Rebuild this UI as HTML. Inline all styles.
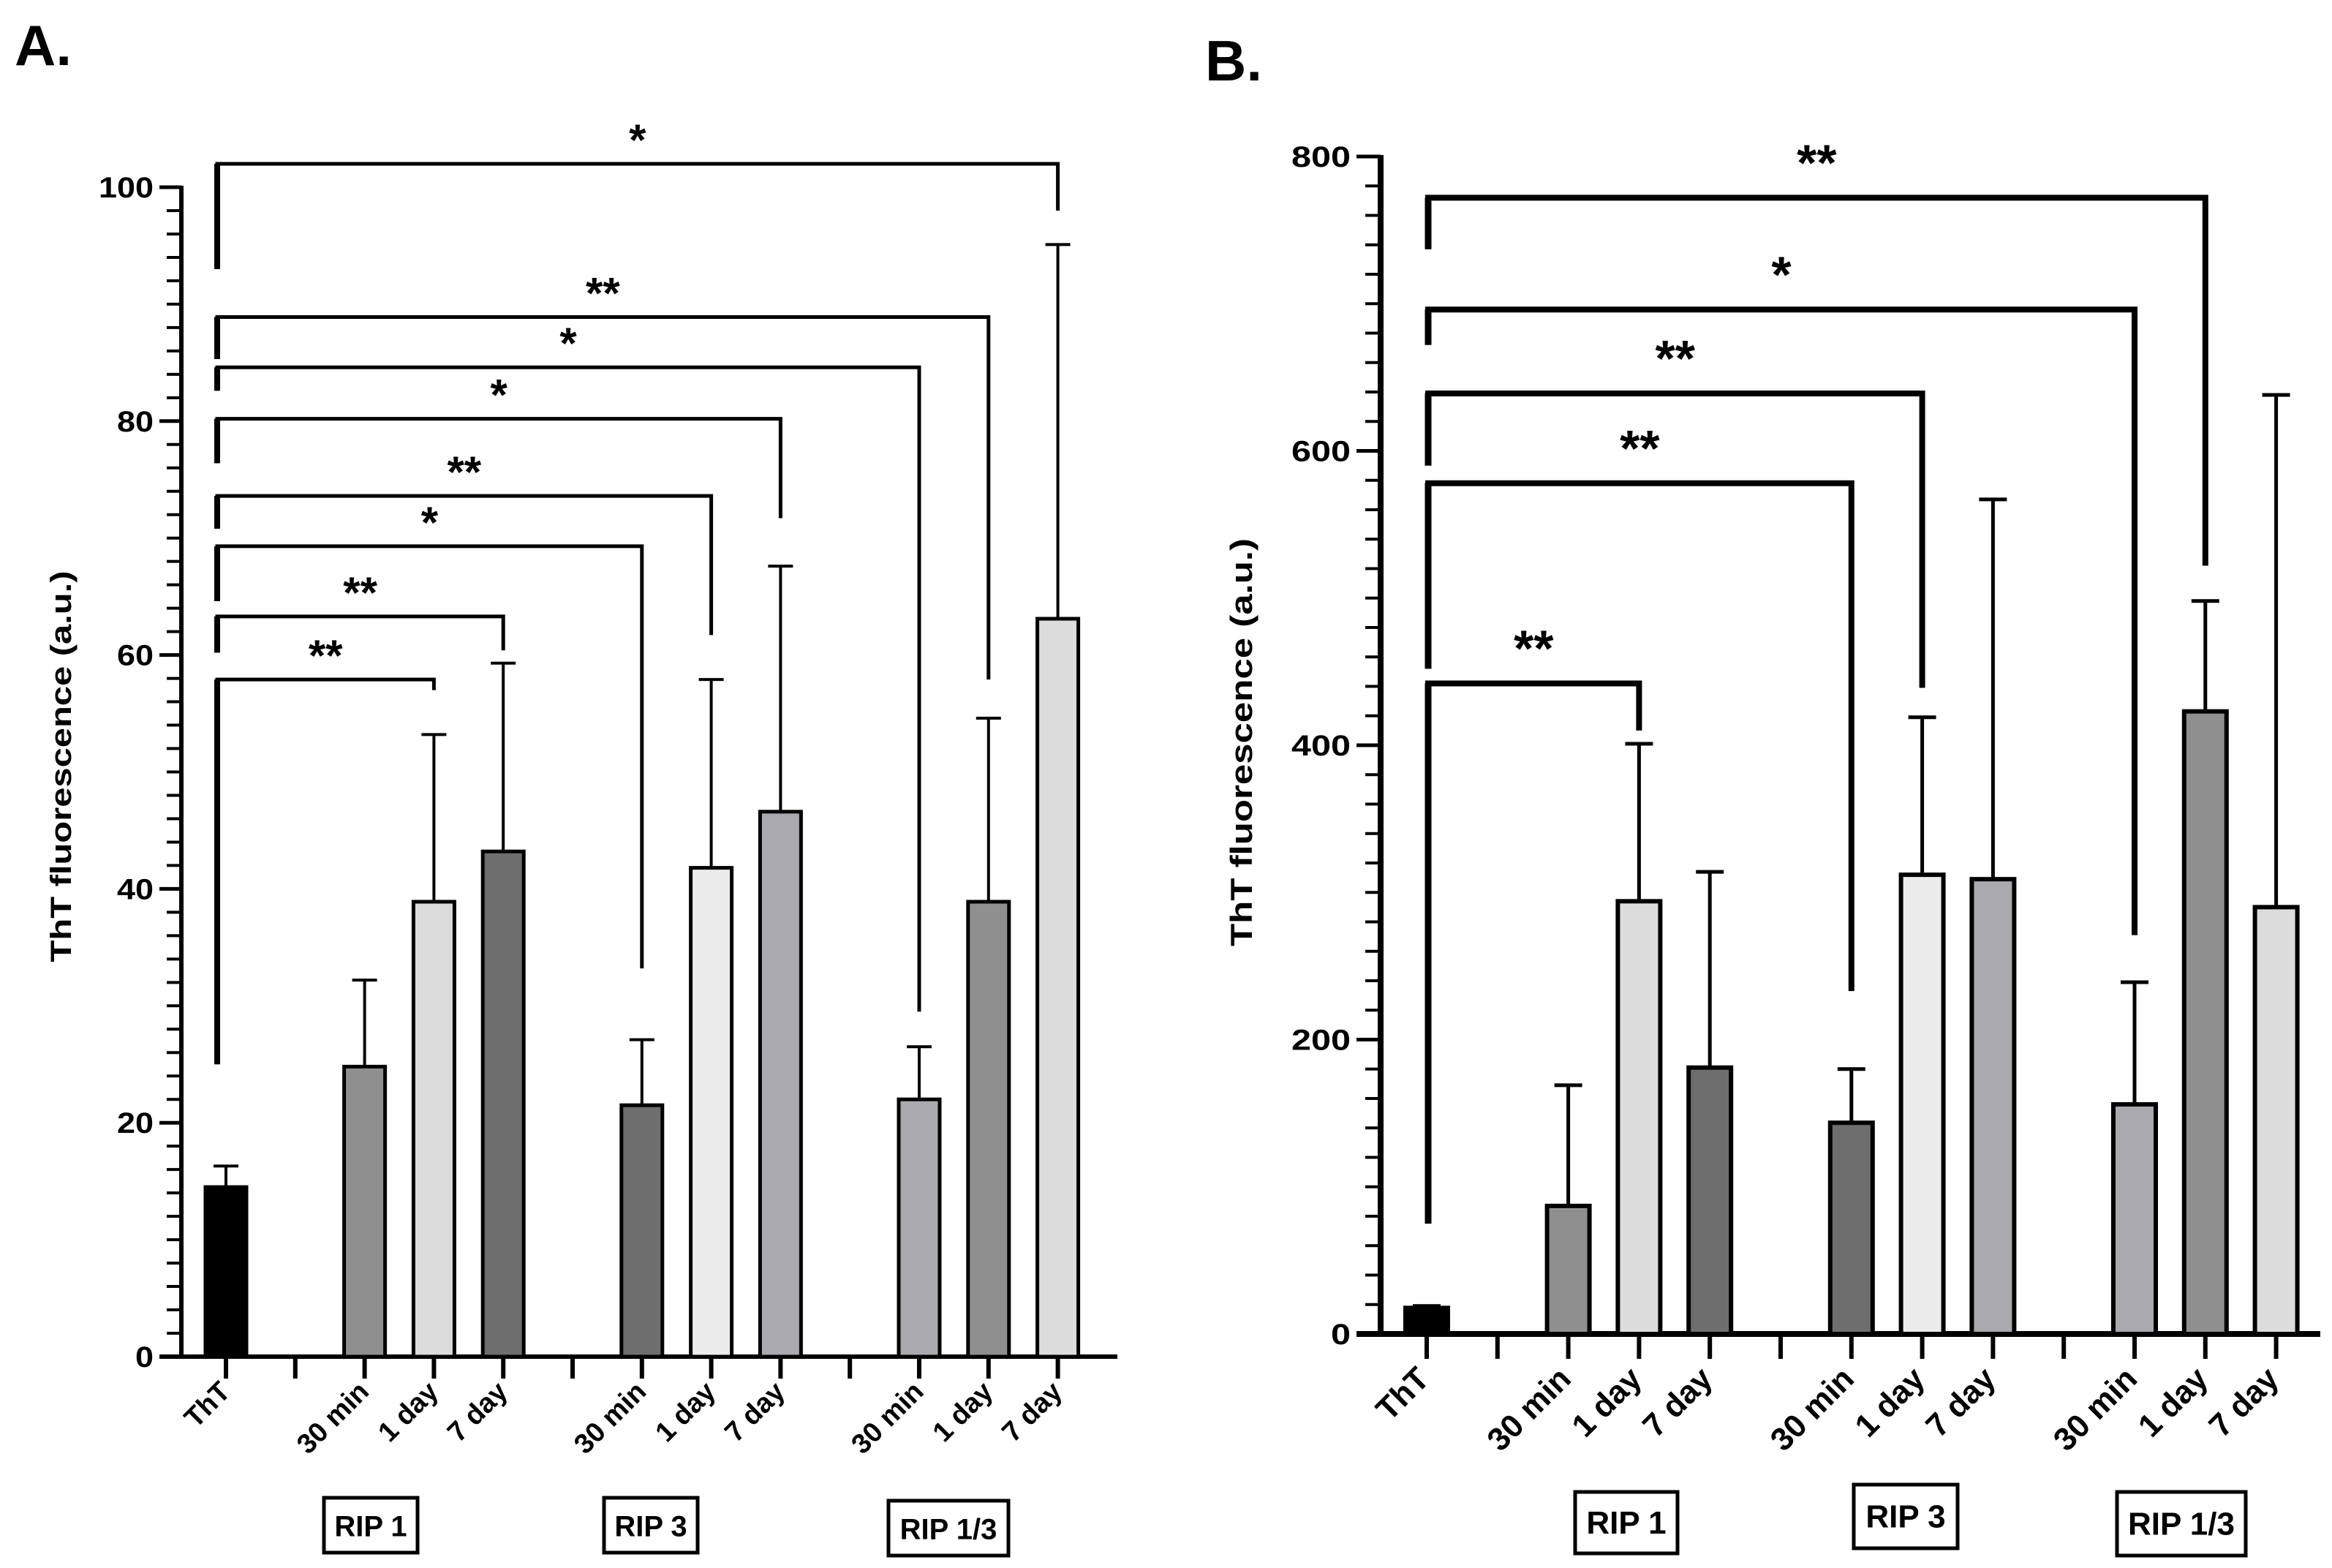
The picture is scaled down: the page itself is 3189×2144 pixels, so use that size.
<!DOCTYPE html>
<html><head><meta charset="utf-8"><style>
html,body{margin:0;padding:0;background:#fff;}
svg{display:block;}
text{font-family:"Liberation Sans",Arial,sans-serif;}
</style></head><body>
<svg id="fig" width="3189" height="2144" viewBox="0 0 3189 2144" xmlns="http://www.w3.org/2000/svg">
<rect x="0" y="0" width="3189" height="2144" fill="#fff"/>
<text x="20" y="89" font-size="78" font-weight="bold">A.</text>
<text x="1648" y="110" font-size="78" font-weight="bold">B.</text>
<g id="chartA"></g>
<g id="chartB"></g>
</svg>
<script>
// ---------- data ----------
const categories = ["ThT","","30 min","1 day","7 day","","30 min","1 day","7 day","","30 min","1 day","7 day"];
const groupNames = ["RIP 1","RIP 3","RIP 1/3"];
const valuesA = [14.5,null,24.8,38.9,43.2,null,21.5,41.8,46.6,null,22.0,38.9,63.1];
const errTopA = [16.3,null,32.2,53.2,59.3,null,27.1,57.9,67.6,null,26.5,54.6,95.1];
const valuesB = [17.7,null,87,294,181,null,143.5,312,309,null,156,423,290];
const errTopB = [19,null,169,401,314,null,180,419,567,null,239,498,638];
const colorsA = ["#000","", "#8f8f8f","#dcdcdc","#6e6e6e","", "#6e6e6e","#ececec","#aaaaae","", "#aaaaae","#8f8f8f","#dcdcdc"];
const colorsB = ["#000","", "#8f8f8f","#dcdcdc","#6e6e6e","", "#6e6e6e","#ececec","#aaaaae","", "#aaaaae","#8f8f8f","#dcdcdc"];
const ticksA = [0,20,40,60,80,100];
const ticksB = [0,200,400,600,800];
// brackets: [target index, line value, left-leg end value, right-leg end value, label]
const bracketsA = [
 [12,102,93,98,"*"],[11,88.9,85.3,57.9,"**"],[10,84.6,82.6,29.5,"*"],[8,80.2,76.4,71.7,"*"],
 [7,73.6,70.8,61.7,"**"],[6,69.3,64.6,33.2,"*"],[4,63.3,60.2,60.4,"**"],[3,57.9,25,57,"**"]
];
const bracketsB = [
 [11,772,737,522,"**"],[10,696,672,271,"*"],[7,639,590,439,"**"],[6,578,452,233,"**"],[3,442,75,410,"**"]
];

const NS="http://www.w3.org/2000/svg";
function mk(parent,tag,attrs){const e=document.createElementNS(NS,tag);for(const k in attrs)e.setAttribute(k,attrs[k]);parent.appendChild(e);return e;}

function drawChart(cfg){
  const g=document.getElementById(cfg.id);
  const y=v=>cfg.y0-(v-0)*(cfg.y0-cfg.yTop)/cfg.max;
  const x=i=>cfg.x0+i*cfg.step;
  const yt=mk(g,"text",{x:0,y:0,"font-size":cfg.titleSize,"font-weight":"bold","text-anchor":"middle",transform:`translate(${cfg.titleX},${cfg.titleY}) rotate(-90)`,textLength:cfg.titleLen,lengthAdjust:"spacingAndGlyphs"});
  yt.textContent="ThT fluorescence (a.u.)";
  
  
  for(let v=0;v<=cfg.max+1e-9;v+=cfg.minor){
    const t=mk(g,"line",{x1:cfg.axisX-cfg.minorLen,x2:cfg.axisX,y1:y(v),y2:y(v),stroke:"#000","stroke-width":cfg.tickW});
    
    
  }
  cfg.ticks.forEach(v=>{
    const t=mk(g,"line",{x1:cfg.axisX-cfg.majorLen,x2:cfg.axisX,y1:y(v),y2:y(v),stroke:"#000","stroke-width":cfg.tickW+1});
    
    
    const s=String(v);
    const l=mk(g,"text",{x:cfg.axisX-cfg.majorLen-8,y:y(v)+14,"font-size":40,"font-weight":"bold","text-anchor":"end",textLength:s.length*cfg.digitW,lengthAdjust:"spacingAndGlyphs"});
    l.textContent=s;
    
    
  });
  const ya=mk(g,"line",{x1:cfg.axisX,x2:cfg.axisX,y1:y(cfg.max)-2,y2:cfg.y0+cfg.axisW/2,stroke:"#000","stroke-width":cfg.axisW});
  
  
  const xa=mk(g,"line",{x1:cfg.axisX-cfg.majorLen,x2:cfg.xEnd,y1:cfg.y0,y2:cfg.y0,stroke:"#000","stroke-width":cfg.axisW});
  
  
  const bw=cfg.barW;
  categories.forEach((c,i)=>{
    const cx=x(i);
    const xt=mk(g,"line",{x1:cx,x2:cx,y1:cfg.y0,y2:cfg.y0+cfg.xTickLen,stroke:"#000","stroke-width":cfg.tickW+2});
    
    
    const v=cfg.values[i];
    if(v===null)return;
    const et=cfg.err[i];
    const el=mk(g,"line",{x1:cx,x2:cx,y1:y(v),y2:y(et),stroke:"#000","stroke-width":cfg.errW});
    
    
    const ec=mk(g,"line",{x1:cx-cfg.capW/2,x2:cx+cfg.capW/2,y1:y(et),y2:y(et),stroke:"#000","stroke-width":cfg.errW});
    
    
    const r=mk(g,"rect",{x:cx-bw/2,y:y(v),width:bw,height:cfg.y0-y(v),fill:cfg.colors[i],stroke:"#000","stroke-width":cfg.barStroke});
    
    
    const lab=mk(g,"text",{x:0,y:0,"font-size":cfg.labSize,"font-weight":"bold","text-anchor":"end",transform:`translate(${cx+cfg.labDx},${cfg.labY}) rotate(-45)`});
    lab.textContent=c;
    
    
  });
  cfg.boxes.forEach((b,k)=>{
    const bx=mk(g,"rect",{x:b[0],y:b[1],width:b[2]-b[0],height:b[3]-b[1],fill:"#fff",stroke:"#000","stroke-width":5});
    
    
    const t=mk(g,"text",{x:(b[0]+b[2])/2,y:(b[1]+b[3])/2+15,"font-size":cfg.boxFont,"font-weight":"bold","text-anchor":"middle"});
    t.textContent=groupNames[k];
    
    
  });
  cfg.brackets.forEach(br=>{
    const [ti,lv,lend,rend,lab]=br;
    const lx=cfg.legX, rx=x(ti);
    const p=mk(g,"path",{d:`M${lx} ${y(lend)} V${y(lv)} H${rx} V${y(rend)}`,fill:"none",stroke:"#000","stroke-width":cfg.brW,"stroke-linejoin":"miter"});
    
    
    const lg=mk(g,"line",{x1:lx,x2:lx,y1:y(lv),y2:y(lend),stroke:"#000","stroke-width":cfg.legW});
    
    
    const st=mk(g,"text",{x:(lx+rx)/2,y:y(lv)+cfg.starDy,"font-size":cfg.starSize,"font-weight":"bold","text-anchor":"middle","font-family":"DejaVu Sans, sans-serif"});
    st.textContent=lab;
    
    
  });
}

drawChart({id:"chartA",values:valuesA,err:errTopA,colors:colorsA,ticks:ticksA,brackets:bracketsA,
  max:100,y0:1855,yTop:256,axisX:248,x0:309,step:94.8,xEnd:1528,minor:2,minorLen:20,majorLen:30,tickW:4,axisW:6,
  digitW:25,barW:56,barStroke:5,errW:4,capW:34,xTickLen:30,labSize:38,labDx:8,labY:1905,
  titleX:97,titleY:1048,titleLen:535,titleSize:40,legX:297,brW:5,legW:8,starDy:-12,starSize:60,boxFont:40,
  boxes:[[443,2048,571,2123],[826,2048,954,2123],[1215,2052,1379,2127]]});
drawChart({id:"chartB",values:valuesB,err:errTopB,colors:colorsB,ticks:ticksB,brackets:bracketsB,
  max:800,y0:1824,yTop:214,axisX:1888,x0:1951,step:96.8,xEnd:3173,minor:20,minorLen:21,majorLen:33,tickW:4,axisW:8,
  digitW:27,barW:58,barStroke:6,errW:5,capW:38,xTickLen:34,labSize:44,labDx:6,labY:1888,
  titleX:1712,titleY:1015,titleLen:558,titleSize:42,legX:1953,brW:8,legW:9,starDy:-24,starSize:70,boxFont:44,
  boxes:[[2154,2040,2294,2124],[2535,2030,2677,2117],[2895,2040,3071,2127]]});
</script>
</body></html>
